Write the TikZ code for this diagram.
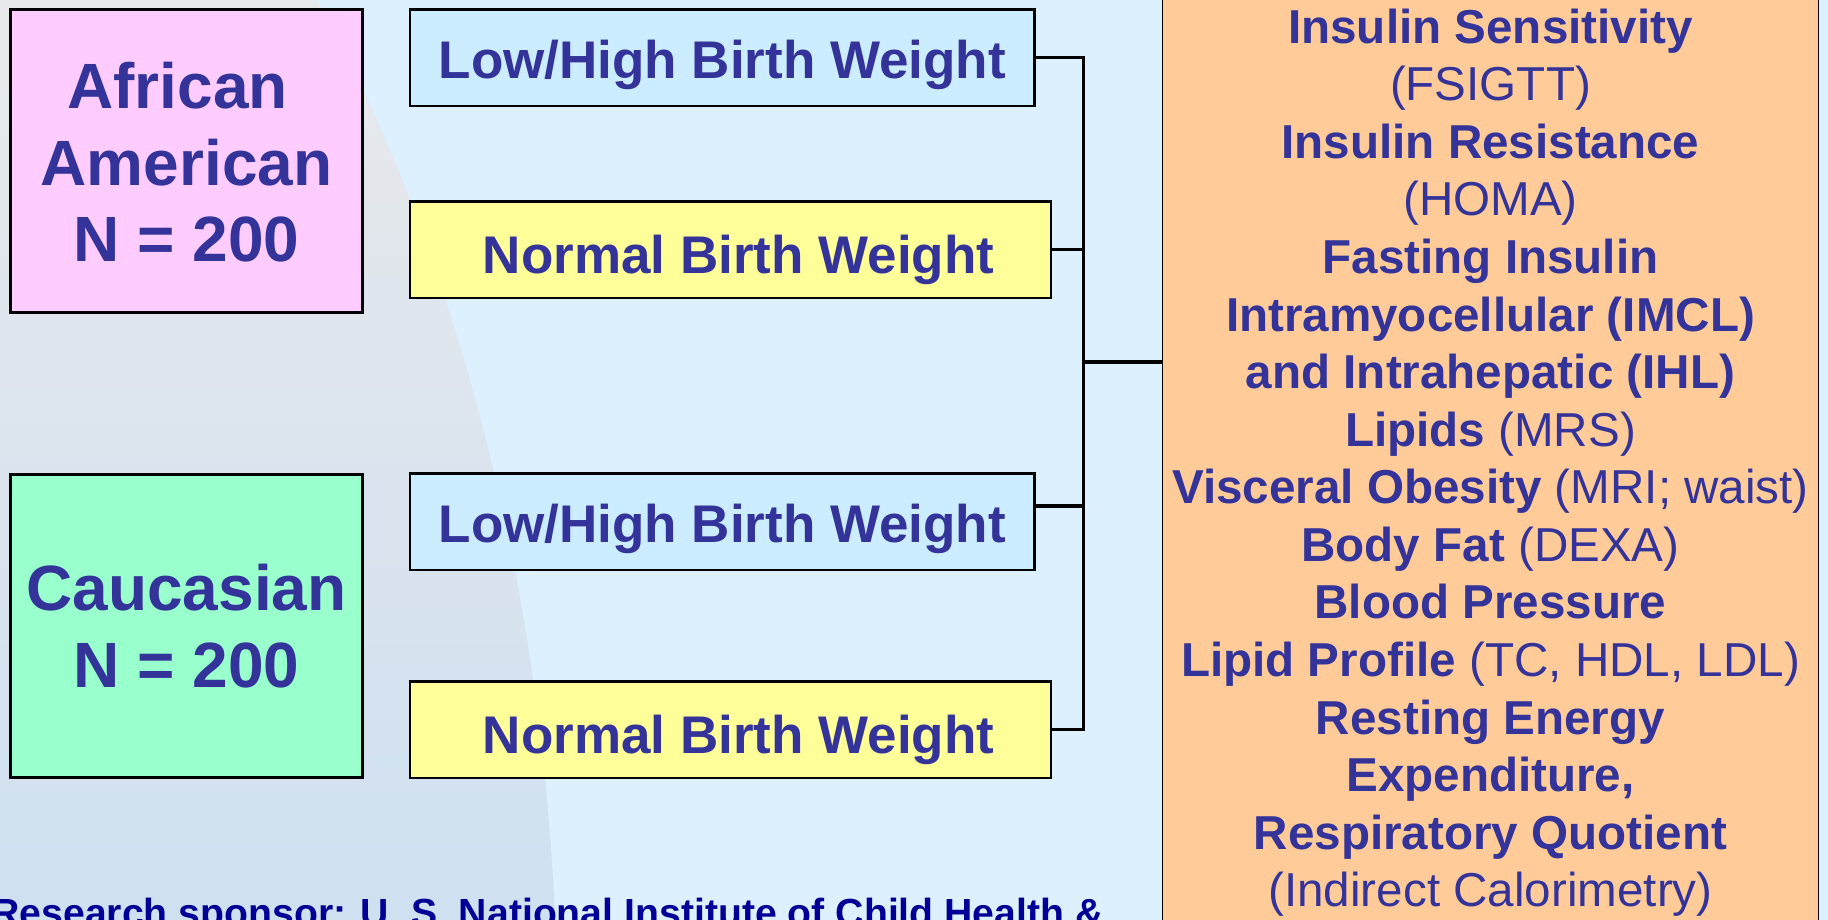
\documentclass[tikz,border=0pt]{standalone}
\usepackage{fontspec}
\setmainfont{Liberation Sans}
\definecolor{txtblue}{RGB}{51,51,153}
\definecolor{sponsorblue}{RGB}{0,0,150}
\definecolor{bgblue}{RGB}{220,240,254}
\definecolor{graytop}{RGB}{232,233,235}
\definecolor{graybot}{RGB}{207,224,241}
\definecolor{pinkfill}{RGB}{255,204,255}
\definecolor{greenfill}{RGB}{153,255,204}
\definecolor{lbluefill}{RGB}{204,236,255}
\definecolor{yellowfill}{RGB}{255,255,153}
\definecolor{orangefill}{RGB}{255,204,153}
\begin{document}
\begin{tikzpicture}[x=0.5pt,y=-0.5pt,
  box/.style={draw=black, line width=1.4pt, inner sep=0pt, outer sep=0pt, text=txtblue, align=center},
  groupbox/.style={box, minimum width=176pt, minimum height=151.5pt,
    font=\fontsize{32}{38.3}\selectfont\bfseries, text depth=0pt},
  weightbox/.style={box, minimum height=48.3pt,
    font=\fontsize{26.5}{32}\selectfont\bfseries, text depth=0pt},
  lhbox/.style={weightbox, fill=lbluefill, minimum width=312.25pt, text height=20.6pt},
  nbbox/.style={weightbox, fill=yellowfill, minimum width=320.5pt, text height=23.5pt},
  outbox/.style={box, fill=orangefill, line width=0.9pt, minimum width=328pt, minimum height=480pt,
    font=\fontsize{23.8}{28.78}\selectfont\bfseries, text height=448.7pt, text depth=0pt},
  conn/.style={draw=black, line width=1.6pt},
]
\useasboundingbox (0,0) rectangle (1828,920);
\clip (0,0) rectangle (1828,920);
% background
\fill[bgblue] (0,0) rectangle (1828,920);
\shade[top color=graytop, bottom color=graybot]
  (0,0) -- (317,0) .. controls (440,220) and (540,550) .. (555,920) -- (0,920) -- cycle;

% group boxes
\node[groupbox, fill=pinkfill, text height=101pt] (aa) at (186.5,160.9)
  {African\hspace*{0.278em}\\American\\N = 200};
\node[groupbox, fill=greenfill, text height=61.3pt] (cau) at (186.5,626)
  {Caucasian\\N = 200};

% birth weight boxes
\node[lhbox] (lh1) at (722.3,57.7) {Low/High Birth Weight};
\node[nbbox] (nb1) at (730.5,249.6) {\hspace*{8pt}Normal Birth Weight};
\node[lhbox] (lh2) at (722.3,521.7) {Low/High Birth Weight};
\node[nbbox] (nb2) at (730.5,729.7) {\hspace*{8pt}Normal Birth Weight};

% outcomes box
\node[outbox] (out) at (1490.5,458) {%
  Insulin Sensitivity\\
  {\mdseries (FSIGTT)}\\
  Insulin Resistance\\
  {\mdseries (HOMA)}\\
  Fasting Insulin\\
  Intramyocellular (IMCL)\\
  and Intrahepatic (IHL)\\
  Lipids {\mdseries (MRS)}\\
  Visceral Obesity {\mdseries (MRI; waist)}\\
  Body Fat {\mdseries (DEXA)}\\
  Blood Pressure\\
  Lipid Profile {\mdseries (TC, HDL, LDL)}\\
  Resting Energy\\
  Expenditure,\\
  Respiratory Quotient\\
  {\mdseries (Indirect Calorimetry)}};

% sponsor line
\node[anchor=base west, inner sep=0pt, text=sponsorblue,
  font=\fontsize{19.6}{23}\selectfont\bfseries] (sponsor) at (-9,926)
  {Research sponsor: U. S. National Institute of Child Health \&};

% connectors
\coordinate (bus) at (1083.5,362);
\coordinate (lh2c) at ([yshift=7.85pt]lh2.east);
\draw[conn] (lh1.east) -- (lh1.east -| bus) -- (nb2.east -| bus) -- (nb2.east);
\draw[conn] (nb1.east) -- (nb1.east -| bus);
\draw[conn] (lh2c) -- (lh2c -| bus);
\draw[conn] (bus) -- (bus -| out.west);
\end{tikzpicture}
\end{document}
